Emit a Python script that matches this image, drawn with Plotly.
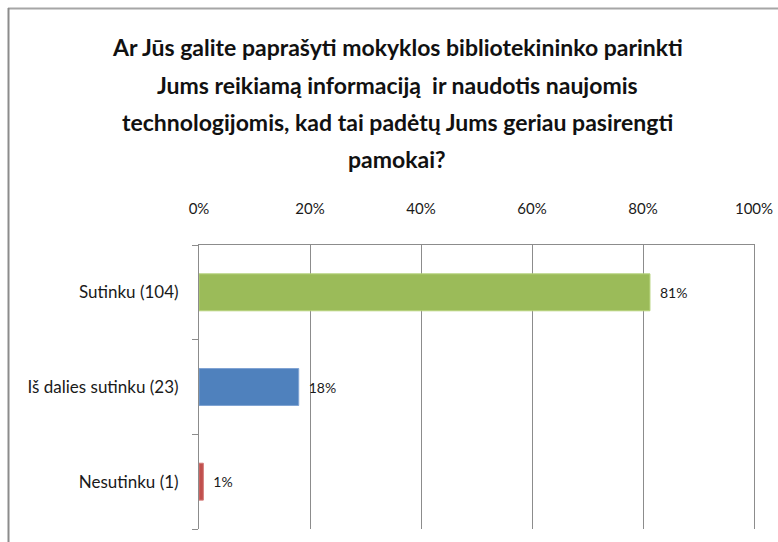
import plotly.graph_objects as go

categories = ["Sutinku (104)", "Iš dalies sutinku (23)", "Nesutinku (1)"]
shares = [0.8125, 0.1797, 0.0078]
bar_colors = ["#9BBB59", "#4F81BD", "#C0504D"]
edge_colors = ["#B5D27A", "#7FA3D3", "#D47A78"]
tick_vals = [0, 0.2, 0.4, 0.6, 0.8, 1.0]
tick_text = ["0%", "20%", "40%", "60%", "80%", "100%"]
title_lines = [
    "Ar Jūs galite paprašyti mokyklos bibliotekininko parinkti",
    "Jums reikiamą informaciją  ir naudotis naujomis",
    "technologijomis, kad tai padėtų Jums geriau pasirengti",
    "pamokai?",
]

FONT = "Lato, Liberation Sans, sans-serif"

# body margin is removed by the post script, so the figure fills the window
W, H = 778, 542
L, R, T, B = 199, 24, 245, 13
PW, PH = W - L - R, H - T - B


def px_x(x):  # window x -> paper
    return (x - L) / PW


def px_y(y):  # window y -> paper
    return 1 - (y - T) / PH


fig = go.Figure(
    go.Bar(
        x=shares,
        y=categories,
        orientation="h",
        marker=dict(color=bar_colors, line=dict(color=edge_colors, width=1)),
        width=0.39,
        text=["\u2002" + f"{v:.0%}" for v in shares],
        textposition="outside",
        textfont=dict(family=FONT, size=14, color="#1a1a1a"),
        cliponaxis=False,
        hoverinfo="skip",
    )
)

fig.update_layout(
    width=W,
    height=H,
    margin=dict(l=L, r=R, t=T, b=B),
    paper_bgcolor="white",
    plot_bgcolor="white",
    showlegend=False,
    font=dict(family=FONT, color="#1a1a1a"),
    xaxis=dict(
        side="top",
        range=[0, 1],
        tickvals=tick_vals,
        ticktext=tick_text,
        tickfont=dict(family=FONT, size=15, color="#1a1a1a"),
        showgrid=True,
        gridcolor="#8C8C8C",
        gridwidth=1,
        showline=True,
        linecolor="#8C8C8C",
        linewidth=1,
        ticks="",
        ticklabelstandoff=24,
        zeroline=False,
        automargin=False,
        fixedrange=True,
    ),
    yaxis=dict(
        categoryorder="array",
        categoryarray=categories[::-1],
        tickfont=dict(family=FONT, size=17, color="#1a1a1a"),
        showline=True,
        mirror=True,
        linecolor="#8C8C8C",
        linewidth=1,
        ticks="outside",
        tickson="boundaries",
        ticklen=6,
        tickcolor="#8C8C8C",
        ticklabelstandoff=16,
        showgrid=False,
        automargin=False,
        fixedrange=True,
    ),
)

# title lines
y_centers = [47, 85, 122, 159]
for line, yc in zip(title_lines, y_centers):
    fig.add_annotation(
        text=f"<b>{line}</b>",
        xref="paper", yref="paper",
        x=px_x(397), y=px_y(yc),
        xanchor="center", yanchor="middle",
        showarrow=False,
        font=dict(family=FONT, size=23, color="#111111"),
    )

# chart border (top and left)
fig.add_shape(type="line", xref="paper", yref="paper",
              x0=px_x(8), x1=px_x(790),
              y0=px_y(8.5), y1=px_y(8.5),
              line=dict(color="#A6A6A6", width=2))
fig.add_shape(type="line", xref="paper", yref="paper",
              x0=px_x(8.5), x1=px_x(8.5),
              y0=px_y(8), y1=px_y(560),
              line=dict(color="#8C8C8C", width=2))

fig.write_html(
    "out.html",
    config={"displayModeBar": False, "staticPlot": True},
    post_script=(
        "document.documentElement.style.margin='0';"
        "document.body.style.margin='0';"
        "document.documentElement.style.overflow='hidden';"
        "document.body.style.overflow='hidden';"
    ),
)
